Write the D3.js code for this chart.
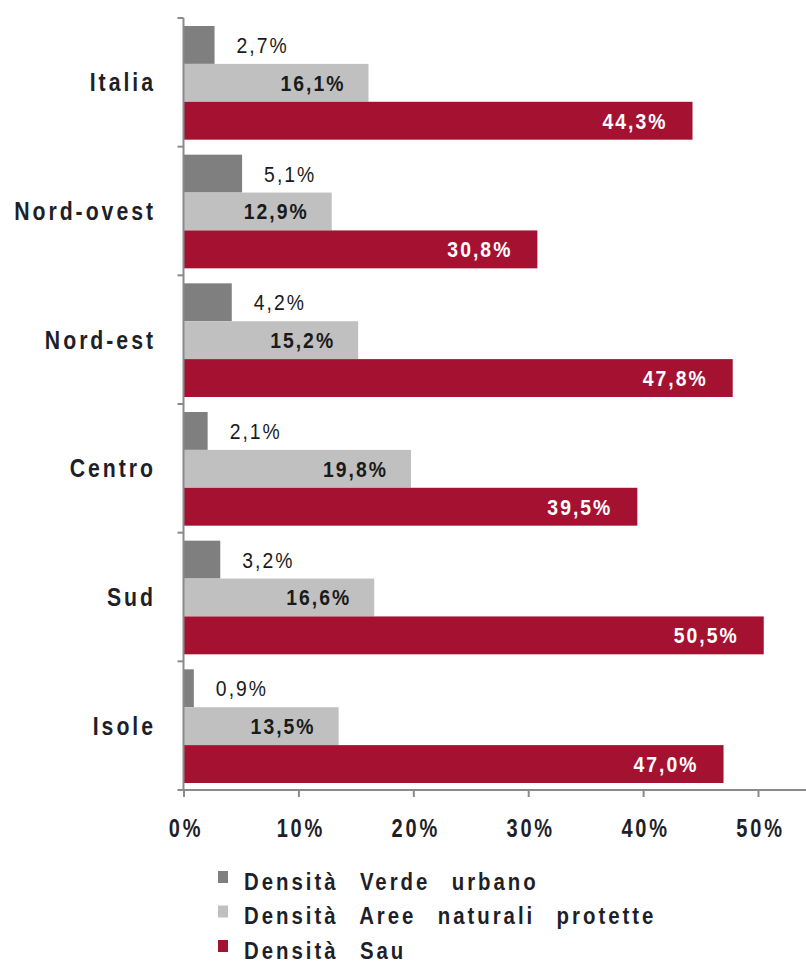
<!DOCTYPE html>
<html>
<head>
<meta charset="utf-8">
<script src="https://cdn.jsdelivr.net/npm/d3@7"></script>
<style>
  html, body { margin: 0; padding: 0; background: #fff; }
  svg { display: block; font-family: "Liberation Sans", Arial, sans-serif; }
</style>
</head>
<body>
<svg id="chart" width="806" height="966"></svg>
<script>
// Regions and densities (% of territory)
const categories = ["Italia", "Nord-ovest", "Nord-est", "Centro", "Sud", "Isole"];
const verdeUrbano = [2.7, 5.1, 4.2, 2.1, 3.2, 0.9];
const areeProtette = [16.1, 12.9, 15.2, 19.8, 16.6, 13.5];
const sau = [44.3, 30.8, 47.8, 39.5, 50.5, 47.0];
const seriesNames = ["Densità Verde urbano", "Densità Aree naturali protette", "Densità Sau"];
const seriesColors = ["#7f7f7f", "#c0c0c0", "#a51231"];
const xTicks = [0, 10, 20, 30, 40, 50];

const svg = d3.select("#chart");
const fmt = v => v.toFixed(1).replace(".", ",") + "%";
// condensed look: horizontal squeeze around the anchor point
const squeeze = (tx, ty, s) => `translate(${tx},${ty}) scale(${s},1)`;

const x = d3.scaleLinear().domain([0, 50]).range([183.5, 758]);
const y = d3.scaleBand().domain(categories).range([18, 790]);
const inner = d3.scaleBand().domain([0, 1, 2]).range([8, y.bandwidth() - 7]);

const allSeries = [verdeUrbano, areeProtette, sau];
const rows = [];
categories.forEach((c, i) => {
  allSeries.forEach((s, k) => rows.push({ cat: c, k, v: s[i] }));
});

// bars
svg.append("g").selectAll("rect").data(rows).join("rect")
  .attr("x", x(0))
  .attr("y", d => y(d.cat) + inner(d.k))
  .attr("width", d => x(d.v) - x(0))
  .attr("height", inner.bandwidth())
  .attr("fill", d => seriesColors[d.k]);

// value labels
const labelY = d => y(d.cat) + inner(d.k) + inner.bandwidth() / 2;
const labels = svg.append("g").selectAll("text").data(rows).join("text")
  .attr("dy", "0.36em")
  .attr("font-size", 22)
  .attr("letter-spacing", 2.3)
  .text(d => fmt(d.v));
labels.filter(d => d.k === 0)
  .attr("transform", d => squeeze(x(d.v) + 22, labelY(d), 0.88))
  .attr("fill", "#1a1a1a");
labels.filter(d => d.k === 1)
  .attr("transform", d => squeeze(x(d.v) - 23, labelY(d), 0.88))
  .attr("text-anchor", "end")
  .attr("font-weight", "bold")
  .attr("fill", "#1a1a1a");
labels.filter(d => d.k === 2)
  .attr("transform", d => squeeze(x(d.v) - 25, labelY(d), 0.88))
  .attr("text-anchor", "end")
  .attr("font-weight", "bold")
  .attr("fill", "#ffffff");

// category axis
const axisColor = "#8a8a8a";
const edges = d3.range(categories.length + 1).map(i => 18 + i * y.step());
svg.append("line")
  .attr("x1", x(0)).attr("x2", x(0))
  .attr("y1", 18).attr("y2", 790)
  .attr("stroke", axisColor).attr("stroke-width", 2);
svg.append("g").selectAll("line").data(edges).join("line")
  .attr("x1", x(0) - 6).attr("x2", x(0))
  .attr("y1", d => d).attr("y2", d => d)
  .attr("stroke", axisColor).attr("stroke-width", 2);
svg.append("g").selectAll("text").data(categories).join("text")
  .attr("transform", d => squeeze(156, y(d) + y.bandwidth() / 2, 0.85))
  .attr("dy", "0.36em")
  .attr("text-anchor", "end")
  .attr("font-size", 25)
  .attr("font-weight", "bold")
  .attr("letter-spacing", 3.5)
  .attr("fill", "#1f1f2a")
  .text(d => d);

// value axis
const xAxis = svg.append("g")
  .attr("transform", "translate(0,790)")
  .call(d3.axisBottom(x).tickValues(xTicks).tickSize(7)
    .tickFormat(d => d + "%"));
xAxis.select(".domain").attr("d", `M${x(0)},0H806`)
  .attr("stroke", axisColor).attr("stroke-width", 2);
xAxis.selectAll(".tick line").attr("stroke", axisColor).attr("stroke-width", 2);
xAxis.selectAll(".tick text")
  .attr("y", null)
  .attr("dy", "0.36em")
  .attr("transform", squeeze(2, 38, 0.8))
  .attr("font-family", "'Liberation Sans', Arial, sans-serif")
  .attr("font-size", 25)
  .attr("font-weight", "bold")
  .attr("letter-spacing", 3.5)
  .attr("fill", "#1f1f2a");

// legend
const legend = svg.append("g").selectAll("g").data(seriesNames).join("g")
  .attr("transform", (d, i) => `translate(218,${881 + i * 34.5})`);
legend.append("rect")
  .attr("x", 0).attr("y", -10).attr("width", 10).attr("height", 12)
  .attr("fill", (d, i) => seriesColors[i]);
legend.append("text")
  .attr("transform", squeeze(26, 0, 0.85))
  .attr("dy", "0.36em")
  .attr("font-size", 24)
  .attr("font-weight", "bold")
  .attr("letter-spacing", 3.5)
  .attr("word-spacing", 15)
  .attr("fill", "#1f1f2a")
  .text(d => d);
</script>
</body>
</html>
